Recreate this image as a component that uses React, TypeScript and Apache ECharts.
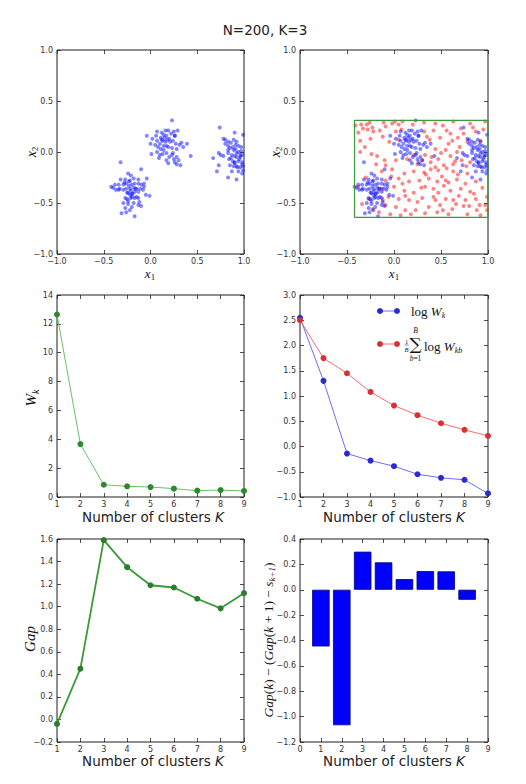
import React, { useEffect, useRef } from 'react';
import * as echarts from 'echarts';

// ---------- data ----------
const K = [1, 2, 3, 4, 5, 6, 7, 8, 9];
const Wk = [12.65, 3.67, 0.85, 0.74, 0.69, 0.58, 0.44, 0.48, 0.42];
const logWk = [2.55, 1.3, -0.14, -0.28, -0.39, -0.55, -0.62, -0.66, -0.93];
const meanLogWkb = [2.5, 1.75, 1.45, 1.08, 0.81, 0.62, 0.46, 0.33, 0.21];
const gap = [-0.04, 0.45, 1.59, 1.35, 1.19, 1.17, 1.07, 0.985, 1.12];
const diffK = [1, 2, 3, 4, 5, 6, 7, 8];
const gapDiff = [-0.447, -1.068, 0.3, 0.216, 0.084, 0.147, 0.145, -0.079];

const boxX = [-0.42, 1.0];
const boxY = [-0.64, 0.31];

const dataPoints: [number, number][] = [
  // cluster 1
  [-0.32, -0.1], [-0.24, -0.21], [-0.21, -0.23], [-0.1, -0.17], [-0.32, -0.27], [-0.27, -0.27], [-0.22, -0.28], [-0.18, -0.26],
  [-0.13, -0.27], [-0.04, -0.26], [-0.38, -0.32], [-0.4, -0.35], [-0.34, -0.32], [-0.33, -0.36], [-0.29, -0.32], [-0.26, -0.31],
  [-0.23, -0.29], [-0.2, -0.32], [-0.17, -0.31], [-0.13, -0.31], [-0.1, -0.32], [-0.07, -0.31], [-0.29, -0.37], [-0.26, -0.36],
  [-0.22, -0.36], [-0.18, -0.35], [-0.15, -0.36], [-0.11, -0.36], [-0.07, -0.34], [-0.24, -0.4], [-0.2, -0.41], [-0.17, -0.39],
  [-0.13, -0.39], [-0.22, -0.42], [-0.2, -0.44], [-0.27, -0.45], [-0.25, -0.46], [-0.21, -0.45], [-0.17, -0.45], [-0.13, -0.45],
  [-0.05, -0.42], [-0.01, -0.43], [-0.29, -0.5], [-0.24, -0.51], [-0.18, -0.5], [-0.13, -0.52], [-0.1, -0.53], [-0.27, -0.55],
  [-0.22, -0.57], [-0.31, -0.6], [-0.26, -0.59], [-0.17, -0.63], [-0.34, -0.37], [-0.23, -0.33], [-0.21, -0.38], [-0.19, -0.41],
  [-0.25, -0.4], [-0.16, -0.36], [-0.24, -0.48], [-0.15, -0.44], [-0.28, -0.3], [-0.42, -0.34], [-0.37, -0.37], [-0.08, -0.37],
  [-0.12, -0.49], [-0.2, -0.54],
  // cluster 2
  [0.23, 0.31], [-0.04, 0.16], [0.07, 0.2], [0.12, 0.19], [0.14, 0.17], [0.17, 0.16], [0.19, 0.21], [0.22, 0.18], [0.25, 0.2],
  [0.29, 0.21], [0.26, 0.16], [0.02, 0.13], [0.07, 0.11], [0.11, 0.14], [0.13, 0.11], [0.16, 0.1], [0.18, 0.12], [0.21, 0.1],
  [0.24, 0.11], [0.27, 0.08], [0.31, 0.07], [0.33, 0.09], [0.39, 0.08], [0.05, 0.07], [0.08, 0.05], [0.11, 0.03], [0.14, 0.06],
  [0.19, 0.05], [0.23, 0.04], [0.28, 0.03], [0.35, 0.05], [0.01, -0.02], [0.07, 0.0], [0.1, -0.03], [0.13, -0.02], [0.17, -0.01],
  [0.23, -0.03], [0.25, -0.07], [0.28, -0.05], [0.43, -0.04], [0.17, -0.08], [0.19, -0.11], [0.26, -0.1], [0.28, -0.12],
  [0.32, -0.13], [0.12, 0.12], [0.15, 0.14], [0.1, 0.08], [0.17, 0.06], [0.2, 0.13], [0.14, 0.02], [0.06, 0.16], [0.24, -0.01],
  [0.2, -0.05], [0.3, -0.08], [0.16, 0.21], [0.26, 0.16], [0.0, 0.08], [0.09, -0.06],
  // cluster 3
  [0.74, 0.24], [0.9, 0.19], [0.78, 0.13], [0.8, 0.12], [0.83, 0.1], [0.86, 0.09], [0.8, 0.08], [0.83, 0.06], [0.92, 0.1],
  [0.94, 0.06], [0.99, 0.17], [0.85, 0.04], [0.89, 0.02], [0.91, 0.03], [0.94, 0.0], [0.97, 0.01], [0.73, -0.01], [0.75, -0.03],
  [0.83, -0.01], [0.87, -0.03], [0.9, -0.04], [0.92, -0.05], [0.96, -0.05], [0.98, -0.03], [0.67, -0.06], [0.84, -0.07],
  [0.88, -0.09], [0.9, -0.1], [0.94, -0.09], [0.98, -0.1], [0.85, -0.13], [0.89, -0.14], [0.92, -0.14], [0.96, -0.15],
  [0.99, -0.14], [0.73, -0.13], [0.71, -0.19], [0.87, -0.19], [0.94, -0.19], [0.99, -0.18], [0.83, -0.25], [0.92, -0.27],
  [0.98, -0.21], [0.88, 0.05], [0.92, -0.01], [0.9, -0.11], [0.86, -0.06], [0.95, -0.07], [0.97, 0.05], [0.83, 0.02],
  [0.89, 0.12], [0.78, -0.04], [0.93, -0.15], [0.96, -0.03], [0.98, -0.12], [0.91, 0.07],
];

const refPoints: [number, number][] = [
  [-0.35, 0.27], [-0.29, 0.27], [-0.26, 0.29], [-0.33, 0.23], [-0.28, 0.22], [-0.23, 0.24], [-0.22, 0.2], [-0.11, 0.29],
  [-0.09, 0.25], [-0.02, 0.28], [0.01, 0.3], [0.05, 0.27], [0.09, 0.3], [0.2, 0.27], [-0.36, 0.11], [-0.25, 0.13], [-0.12, 0.15],
  [-0.05, 0.1], [0.05, 0.12], [-0.36, 0.0], [-0.24, -0.02], [-0.18, -0.04], [-0.1, -0.08], [-0.19, -0.12], [-0.09, -0.13],
  [0.02, -0.08], [0.14, -0.07], [0.21, -0.03], [0.25, -0.12], [-0.41, 0.26],
  [0.32, 0.29], [0.44, 0.28], [0.63, 0.3], [0.81, 0.28], [0.97, 0.3], [0.42, 0.21], [0.56, 0.21], [0.71, 0.23], [0.74, 0.18],
  [0.87, 0.2], [0.95, 0.22], [0.35, 0.15], [0.49, 0.14], [0.62, 0.11], [0.78, 0.1], [0.92, 0.11], [0.44, 0.03], [0.55, 0.02],
  [0.67, 0.0], [0.33, -0.03], [0.47, -0.07], [0.6, -0.04], [0.72, -0.08], [0.39, -0.1], [0.53, -0.13], [0.63, -0.12],
  [0.81, -0.1], [0.3, -0.08],
  [-0.13, -0.19], [-0.02, -0.17], [0.11, -0.21], [0.21, -0.19], [-0.3, -0.25], [-0.09, -0.28], [0.05, -0.26], [0.16, -0.29],
  [0.27, -0.28], [-0.13, -0.36], [0.0, -0.34], [0.11, -0.38], [0.21, -0.4], [-0.06, -0.44], [0.05, -0.46], [0.16, -0.47],
  [0.25, -0.49], [-0.09, -0.52], [0.02, -0.54], [0.12, -0.57], [0.23, -0.57], [-0.16, -0.59], [-0.04, -0.61], [0.07, -0.62],
  [0.18, -0.61], [-0.38, -0.34], [-0.34, -0.51], [-0.23, -0.56], [-0.27, -0.46],
  [0.32, -0.2], [0.39, -0.17], [0.47, -0.18], [0.56, -0.16], [0.63, -0.19], [0.78, -0.21], [0.37, -0.26], [0.46, -0.29],
  [0.55, -0.28], [0.67, -0.27], [0.76, -0.31], [0.87, -0.29], [0.33, -0.34], [0.42, -0.36], [0.53, -0.33], [0.6, -0.38],
  [0.71, -0.36], [0.81, -0.39], [0.94, -0.35], [0.42, -0.44], [0.44, -0.47], [0.55, -0.46], [0.63, -0.47], [0.76, -0.47],
  [0.87, -0.46], [0.99, -0.44], [0.37, -0.54], [0.49, -0.52], [0.62, -0.56], [0.74, -0.53], [0.88, -0.57], [0.97, -0.52],
  [0.33, -0.6], [0.46, -0.59], [0.58, -0.61], [0.78, -0.61], [0.92, -0.62], [0.99, -0.57],
  [-0.38, 0.19], [-0.31, 0.05], [-0.15, 0.21], [0.02, 0.2], [0.08, 0.22], [0.32, 0.2], [0.38, 0.12], [0.52, 0.26], [0.6, 0.18],
  [0.68, 0.14], [0.84, 0.24], [0.7, 0.05], [0.58, 0.08], [0.5, -0.01], [0.4, -0.05], [0.65, -0.09], [0.77, -0.14], [0.44, -0.15],
  [0.34, -0.22], [0.51, -0.24], [0.68, -0.22], [0.58, -0.3], [0.47, -0.4], [0.69, -0.43], [0.8, -0.53], [0.66, -0.51],
  [0.52, -0.57], [0.3, -0.45], [0.09, -0.31], [-0.03, -0.24], [-0.12, -0.47], [0.12, -0.43], [0.29, -0.35], [0.85, -0.41],
  [0.91, -0.52],
];

// ---------- helpers ----------
const MINUS = '\u2212';
const fmt1 = (v: number) => {
  const r = Math.round(v * 10) / 10;
  return (r < 0 ? MINUS : '') + Math.abs(r).toFixed(1);
};
const fmt0 = (v: number) => String(Math.round(v));

const SANS = 'DejaVu Sans';
const SERIF = 'Liberation Serif';
const TICK_FS = 8;

type Part = { t: string; size: number; it?: boolean; dy?: number; fam?: string; dx?: number };

function measure(ctx: CanvasRenderingContext2D, p: Part) {
  ctx.font = `${p.it ? 'italic ' : ''}${p.size}px "${p.fam || SERIF}"`;
  return ctx.measureText(p.t).width;
}

function mathText(
  ctx: CanvasRenderingContext2D,
  parts: Part[],
  x: number,
  y: number,
  rot: boolean,
  anchor: 'center' | 'left' = 'center',
  color = '#111'
) {
  const ws = parts.map((p) => measure(ctx, p) + (p.dx || 0));
  const total = ws.reduce((a, b) => a + b, 0);
  let cur = anchor === 'center' ? -total / 2 : 0;
  const children = parts.map((p, i) => {
    const el = {
      type: 'text',
      x: cur + (p.dx || 0),
      y: p.dy || 0,
      style: {
        text: p.t,
        fontSize: p.size,
        fontFamily: p.fam || SERIF,
        fontStyle: p.it ? 'italic' : 'normal',
        fill: color,
        align: 'left',
        verticalAlign: 'middle',
      },
    };
    cur += ws[i];
    return el;
  });
  return { type: 'group', x, y, rotation: rot ? Math.PI / 2 : 0, children, silent: true, z: 50 };
}

const grids = [
  { left: 57, top: 50, width: 187, height: 204 },
  { left: 300, top: 50, width: 188, height: 204 },
  { left: 57, top: 295, width: 187, height: 202 },
  { left: 300, top: 295, width: 188, height: 202 },
  { left: 57, top: 539, width: 187, height: 203 },
  { left: 300, top: 539, width: 188, height: 203 },
];

type Spec = { min: number; max: number; interval: number; fmt: (v: number) => string };
const sc: Spec = { min: -1, max: 1, interval: 0.5, fmt: fmt1 };
const kx: Spec = { min: 1, max: 9, interval: 1, fmt: fmt0 };
const xSpecs: Spec[] = [sc, sc, kx, kx, kx, { min: 0, max: 9, interval: 1, fmt: fmt0 }];
const ySpecs: Spec[] = [
  sc,
  sc,
  { min: 0, max: 14, interval: 2, fmt: fmt0 },
  { min: -1, max: 3, interval: 0.5, fmt: fmt1 },
  { min: -0.2, max: 1.6, interval: 0.2, fmt: fmt1 },
  { min: -1.2, max: 0.4, interval: 0.2, fmt: fmt1 },
];

function buildOption() {
  const ctx = document.createElement('canvas').getContext('2d') as CanvasRenderingContext2D;

  const xAxis: any[] = [];
  const yAxis: any[] = [];
  const tick = { show: true, inside: true, length: 4, lineStyle: { color: '#222', width: 0.8 } };
  grids.forEach((_, i) => {
    const xs = xSpecs[i];
    const ys = ySpecs[i];
    (['bottom', 'top'] as const).forEach((pos) => {
      xAxis.push({
        type: 'value',
        gridIndex: i,
        position: pos,
        min: xs.min,
        max: xs.max,
        interval: xs.interval,
        splitLine: { show: false },
        axisLine: { show: false, onZero: false },
        axisTick: tick,
        axisLabel: {
          show: pos === 'bottom',
          formatter: xs.fmt,
          fontSize: TICK_FS,
          color: '#333',
          margin: 3,
          fontFamily: SANS,
        },
      });
    });
    (['left', 'right'] as const).forEach((pos) => {
      yAxis.push({
        type: 'value',
        gridIndex: i,
        position: pos,
        min: ys.min,
        max: ys.max,
        interval: ys.interval,
        splitLine: { show: false },
        axisLine: { show: false, onZero: false },
        axisTick: tick,
        axisLabel: {
          show: pos === 'left',
          formatter: ys.fmt,
          fontSize: TICK_FS,
          color: '#333',
          margin: 4,
          fontFamily: SANS,
        },
      });
    });
  });

  const blue = 'rgba(0,0,255,0.6)';
  const red = 'rgba(255,0,0,0.6)';

  const boxData = [
    [boxX[0], boxY[0]],
    [boxX[1], boxY[0]],
    [boxX[1], boxY[1]],
    [boxX[0], boxY[1]],
    [boxX[0], boxY[0]],
  ];

  const series: any[] = [
    { type: 'scatter', xAxisIndex: 0, yAxisIndex: 0, data: dataPoints, symbolSize: 4, itemStyle: { color: blue }, silent: true },
    { type: 'scatter', xAxisIndex: 2, yAxisIndex: 2, data: refPoints, symbolSize: 4, itemStyle: { color: red }, silent: true },
    { type: 'scatter', xAxisIndex: 2, yAxisIndex: 2, data: dataPoints, symbolSize: 4, itemStyle: { color: blue }, silent: true },
    {
      type: 'line', xAxisIndex: 2, yAxisIndex: 2, data: boxData, showSymbol: false, symbol: 'none', clip: false,
      lineStyle: { color: '#3c9a3c', width: 1.2 }, silent: true,
    },
    {
      type: 'line', xAxisIndex: 4, yAxisIndex: 4, data: K.map((k, i) => [k, Wk[i]]), symbol: 'circle', symbolSize: 6,
      lineStyle: { color: '#6cc06c', width: 1 }, itemStyle: { color: '#2b8a2b' }, silent: true,
    },
    {
      type: 'line', xAxisIndex: 6, yAxisIndex: 6, data: K.map((k, i) => [k, logWk[i]]), symbol: 'circle', symbolSize: 6,
      lineStyle: { color: 'rgba(60,60,255,0.75)', width: 1 }, itemStyle: { color: '#2a2ad0' }, silent: true,
    },
    {
      type: 'line', xAxisIndex: 6, yAxisIndex: 6, data: K.map((k, i) => [k, meanLogWkb[i]]), symbol: 'circle', symbolSize: 6,
      lineStyle: { color: 'rgba(255,70,70,0.8)', width: 1 }, itemStyle: { color: '#d43333' }, silent: true,
    },
    {
      type: 'line', xAxisIndex: 8, yAxisIndex: 8, data: K.map((k, i) => [k, gap[i]]), symbol: 'circle', symbolSize: 6,
      lineStyle: { color: '#3a9a3a', width: 1.8 }, itemStyle: { color: '#2a7d2a' }, silent: true,
    },
    {
      type: 'bar', xAxisIndex: 10, yAxisIndex: 10, data: diffK.map((k, i) => [k, gapDiff[i]]), barWidth: 17.5,
      itemStyle: { color: '#0000ff', borderColor: '#00007a', borderWidth: 0.8 }, silent: true,
    },
  ];

  const xTitle = (x: number, y: number) =>
    mathText(ctx, [
      { t: 'Number of clusters ', size: 13.5, fam: SANS },
      { t: 'K', size: 13.5, fam: SANS, it: true },
    ], x, y, false, 'center', '#222');

  const graphic: any[] = [
    {
      type: 'text', x: 265, y: 30, z: 50, silent: true,
      style: { text: 'N=200, K=3', fontSize: 13.5, fontFamily: SANS, fill: '#222', align: 'center', verticalAlign: 'middle' },
    },
    mathText(ctx, [{ t: 'x', size: 13, it: true }, { t: '1', size: 9, dy: 4 }], 150, 273, false),
    mathText(ctx, [{ t: 'x', size: 13, it: true }, { t: '1', size: 9, dy: 4 }], 394, 273, false),
    mathText(ctx, [{ t: 'x', size: 14, it: true }, { t: '2', size: 9, dy: 4 }], 31, 152, true),
    mathText(ctx, [{ t: 'x', size: 14, it: true }, { t: '2', size: 9, dy: 4 }], 275, 152, true),
    mathText(ctx, [{ t: 'W', size: 15, it: true }, { t: 'k', size: 10, it: true, dy: 4 }], 31, 398, true),
    mathText(ctx, [{ t: 'Gap', size: 15, it: true }], 30, 639, true),
    mathText(ctx, [
      { t: 'Gap', size: 13.5, it: true },
      { t: '(', size: 13.5 },
      { t: 'k', size: 13.5, it: true },
      { t: ')', size: 13.5 },
      { t: ' \u2212 (', size: 13.5 },
      { t: 'Gap', size: 13.5, it: true },
      { t: '(', size: 13.5 },
      { t: 'k', size: 13.5, it: true },
      { t: ' + 1)', size: 13.5 },
      { t: ' \u2212 ', size: 13.5 },
      { t: 's', size: 13.5, it: true },
      { t: 'k+1', size: 9, it: true, dy: 4 },
      { t: ')', size: 13.5 },
    ], 268, 640, true),
    xTitle(153, 517),
    xTitle(394, 517),
    xTitle(153, 761),
    xTitle(394, 761),
    // legend (middle-right panel)
    { type: 'line', z: 50, silent: true, shape: { x1: 380, y1: 311, x2: 397, y2: 311 }, style: { stroke: 'rgba(60,60,255,0.75)', lineWidth: 1 } },
    { type: 'circle', z: 51, silent: true, shape: { cx: 380, cy: 311, r: 3 }, style: { fill: '#2a2ad0' } },
    { type: 'circle', z: 51, silent: true, shape: { cx: 397, cy: 311, r: 3 }, style: { fill: '#2a2ad0' } },
    mathText(ctx, [{ t: 'log ', size: 13 }, { t: 'W', size: 13, it: true }, { t: 'k', size: 8, it: true, dy: 4 }], 411, 311, false, 'left'),
    { type: 'line', z: 50, silent: true, shape: { x1: 380, y1: 344, x2: 397, y2: 344 }, style: { stroke: 'rgba(255,70,70,0.8)', lineWidth: 1 } },
    { type: 'circle', z: 51, silent: true, shape: { cx: 380, cy: 344, r: 3 }, style: { fill: '#d43333' } },
    { type: 'circle', z: 51, silent: true, shape: { cx: 397, cy: 344, r: 3 }, style: { fill: '#d43333' } },
    {
      type: 'text', x: 406.5, y: 341.5, z: 50, silent: true,
      style: { text: '1', fontSize: 6.5, fontFamily: SERIF, fill: '#111', align: 'center', verticalAlign: 'middle' },
    },
    { type: 'line', z: 50, silent: true, shape: { x1: 404.5, y1: 345, x2: 408.5, y2: 345 }, style: { stroke: '#111', lineWidth: 0.5 } },
    {
      type: 'text', x: 406.5, y: 349, z: 50, silent: true,
      style: { text: 'B', fontSize: 6.5, fontFamily: SERIF, fontStyle: 'italic', fill: '#111', align: 'center', verticalAlign: 'middle' },
    },
    {
      type: 'text', x: 415.5, y: 344, z: 50, silent: true,
      style: { text: '\u2211', fontSize: 17, fontFamily: 'DejaVu Serif', fill: '#111', align: 'center', verticalAlign: 'middle' },
    },
    {
      type: 'text', x: 415.5, y: 330, z: 50, silent: true,
      style: { text: 'B', fontSize: 7.5, fontFamily: SERIF, fontStyle: 'italic', fill: '#111', align: 'center', verticalAlign: 'middle' },
    },
    mathText(ctx, [{ t: 'b', size: 7.5, it: true }, { t: '=1', size: 7.5 }], 415.5, 358, false),
    mathText(ctx, [{ t: 'log ', size: 13 }, { t: 'W', size: 13, it: true }, { t: 'kb', size: 8, it: true, dy: 4 }], 424, 346, false, 'left'),
  ];

  return {
    animation: false,
    backgroundColor: '#ffffff',
    grid: grids.map((g) => ({
      ...g,
      show: true,
      borderColor: '#1e1e1e',
      borderWidth: 1,
      backgroundColor: 'transparent',
      containLabel: false,
      outerBoundsMode: 'none',
    })),
    xAxis,
    yAxis,
    series,
    graphic,
  };
}

export default function App() {
  const ref = useRef<HTMLDivElement>(null);
  useEffect(() => {
    document.body.style.margin = '0';
    if (!ref.current) return;
    const chart = echarts.init(ref.current, null, { renderer: 'svg' });
    chart.setOption(buildOption() as any);
    return () => chart.dispose();
  }, []);
  return <div ref={ref} style={{ width: 526, height: 784 }} />;
}
